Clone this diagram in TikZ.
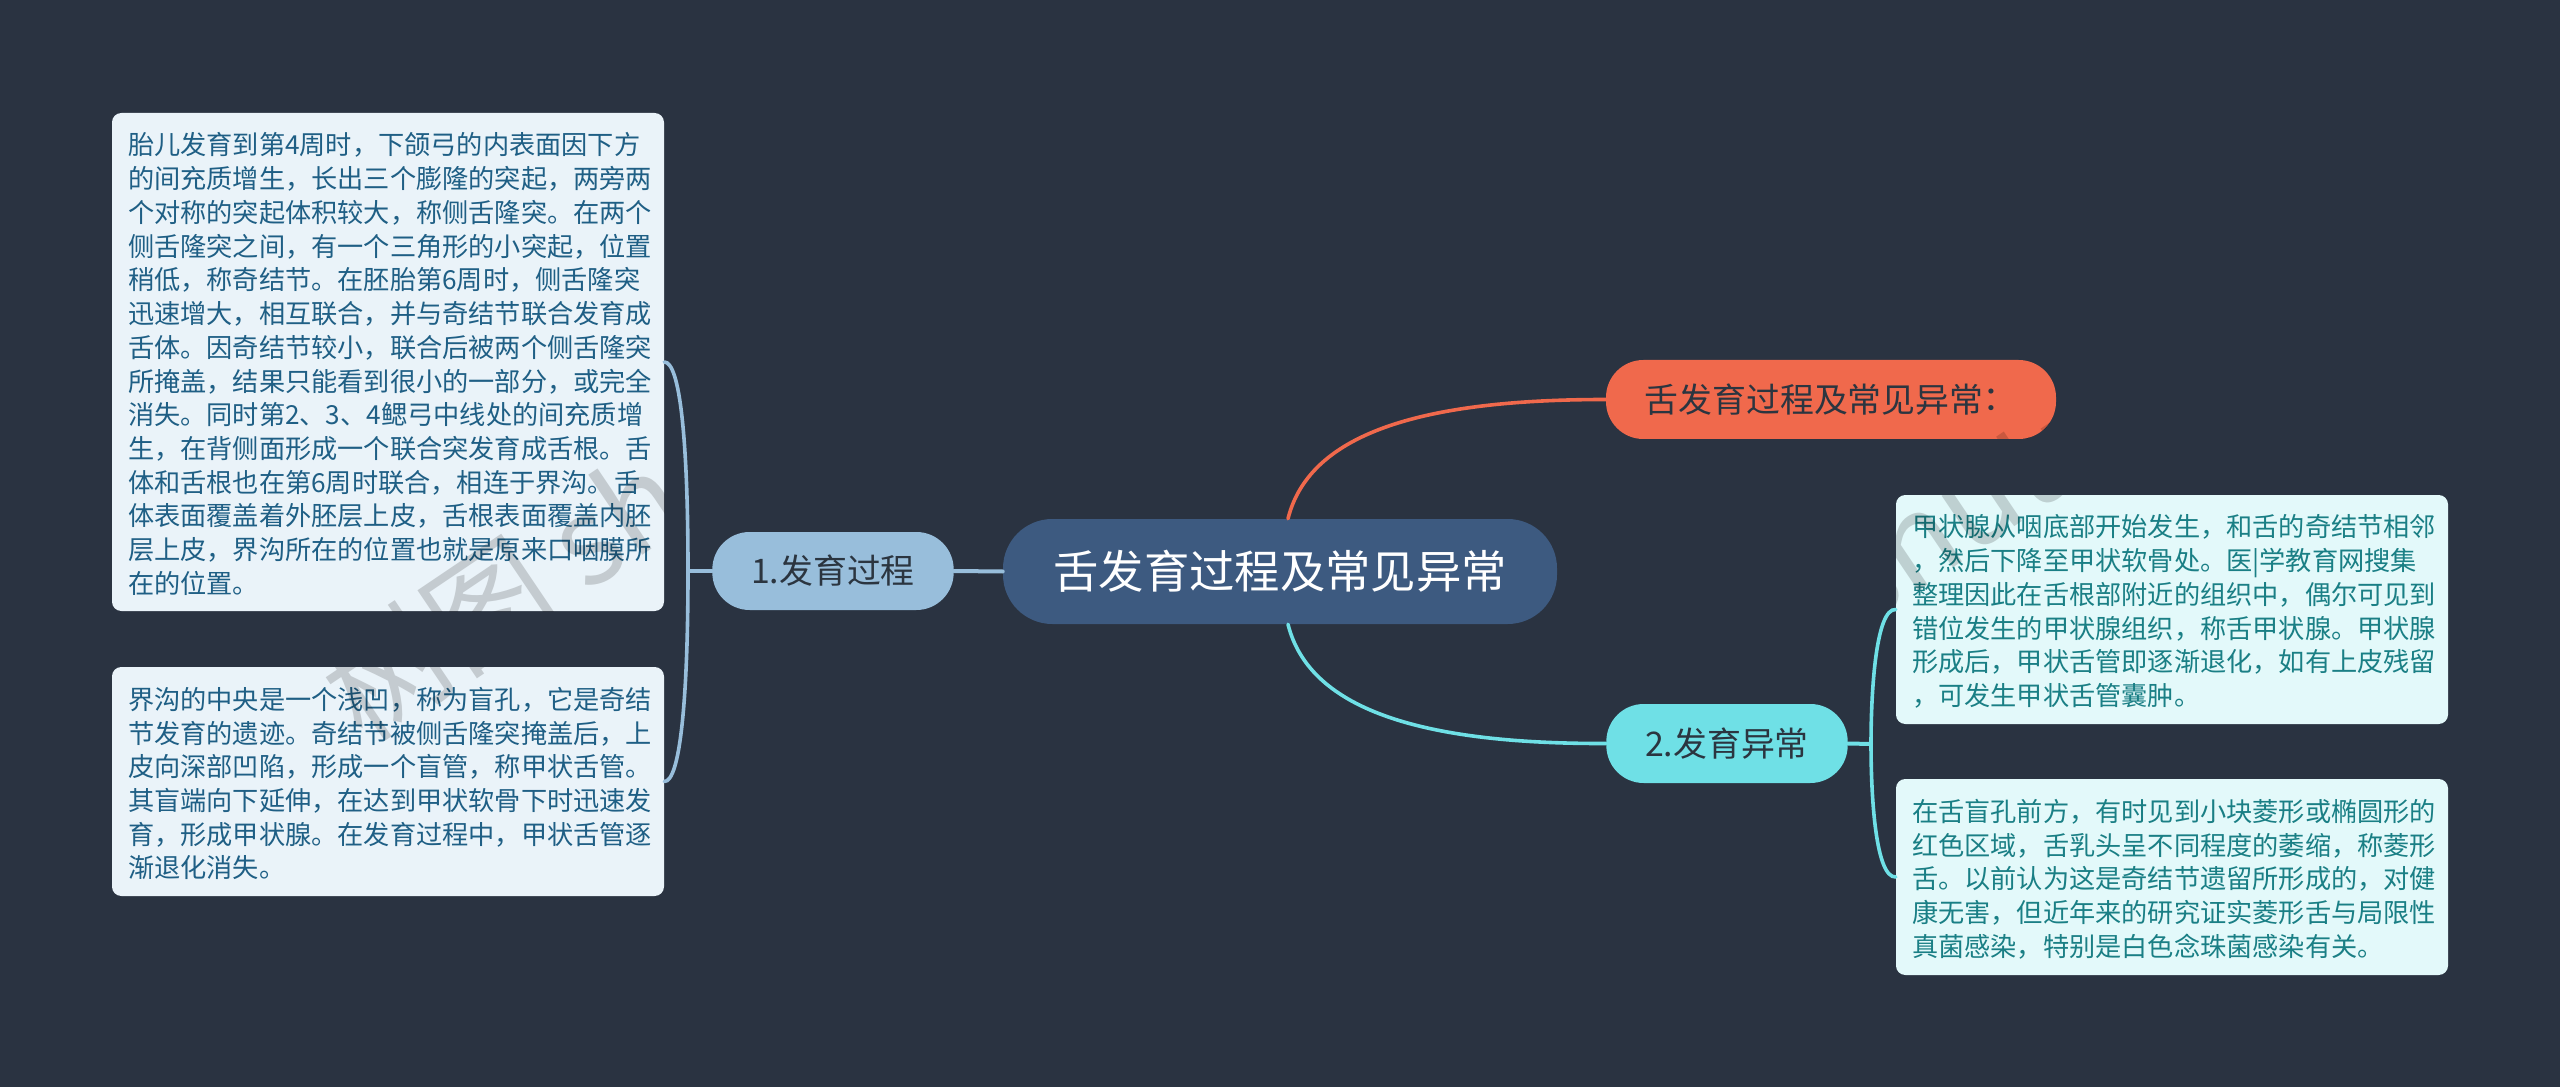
\documentclass[tikz,border=0pt]{standalone}
\usepackage{fontspec}
\setmainfont{Noto Sans CJK SC}
\newfontfamily\tcfont{Noto Sans CJK TC}
\usetikzlibrary{calc}
\definecolor{bgc}{HTML}{2A3341}
\definecolor{rootc}{HTML}{3D5A80}
\definecolor{bluec}{HTML}{98BEDB}
\definecolor{redc}{HTML}{F0694C}
\definecolor{cyanc}{HTML}{6FE0E6}
\definecolor{lboxc}{HTML}{EAF3F9}
\definecolor{rboxc}{HTML}{E3F9FA}
\definecolor{ltext}{HTML}{1F5F85}
\definecolor{rtext}{HTML}{1A7F85}
\definecolor{dtext}{HTML}{2B3540}
\definecolor{wmark}{HTML}{D6D6D6}
\tikzset{
  pill/.style={rectangle,inner sep=0pt,align=center},
  noteboxl/.style={rectangle,rounded corners=7pt,fill=lboxc,text=ltext,inner sep=0pt,minimum width=414pt,text width=390pt,align=left,font=\fontsize{19.65}{25.3}\selectfont,execute at begin node={\rule{0pt}{19.8pt}}},
  noteboxr/.style={rectangle,rounded corners=7pt,fill=rboxc,text=rtext,inner sep=0pt,minimum width=414pt,text width=390pt,align=left,font=\fontsize{19.65}{25.3}\selectfont,execute at begin node={\rule{0pt}{19.8pt}}},
  branchfont/.style={font=\fontsize{25.4}{30}\selectfont,text=dtext},
  wire/.style={line width=2.7pt,line cap=round},
  wmtext/.style={text=wmark,inner sep=0pt,anchor=west,rotate=34,font=\fontsize{91}{96}\selectfont},
}
\begin{document}
\begin{tikzpicture}[x=0.75pt,y=-0.75pt]
\useasboundingbox (0,0) rectangle (2560,1087);
\fill[bgc] (0,0) rectangle (2560,1087);

\coordinate (lfork) at (688,571);
\coordinate (rfork) at (1871,744);

\node[pill,fill=rootc,text=white,rounded corners=37pt,minimum width=415.5pt,minimum height=78.75pt,font=\fontsize{34}{40}\selectfont] (root) at (1280,571.5) {舌发育过程及常见异常};
\node[pill,fill=redc,rounded corners=28pt,minimum width=337.5pt,minimum height=59.25pt,branchfont] (top) at (1831,399.5) {舌发育过程及常见异常\kern-.25em{\tcfont ：}\kern.25em};
\node[pill,fill=bluec,rounded corners=28pt,minimum width=181pt,minimum height=58.5pt,branchfont] (b1) at (833,571) {1.发育过程};
\node[pill,fill=cyanc,rounded corners=28pt,minimum width=181pt,minimum height=59.25pt,branchfont] (b2) at (1727,743.5) {2.发育异常};

\node[noteboxl,minimum height=373.5pt] (l1) at (388,362) {胎儿发育到第4周时，下颌弓的内表面因下方\\
的间充质增生，长出三个膨隆的突起，两旁两\\
个对称的突起体积较大，称侧舌隆突。在两个\\
侧舌隆突之间，有一个三角形的小突起，位置\\
稍低，称奇结节。在胚胎第6周时，侧舌隆突\\
迅速增大，相互联合，并与奇结节联合发育成\\
舌体。因奇结节较小，联合后被两个侧舌隆突\\
所掩盖，结果只能看到很小的一部分，或完全\\
消失。同时第2、3、4鳃弓中线处的间充质增\\
生，在背侧面形成一个联合突发育成舌根。舌\\
体和舌根也在第6周时联合，相连于界沟。舌\\
体表面覆盖着外胚层上皮，舌根表面覆盖内胚\\
层上皮，界沟所在的位置也就是原来口咽膜所\\
在的位置。};
\node[noteboxl,minimum height=171.75pt] (l2) at (388,781.5) {界沟的中央是一个浅凹，称为盲孔，它是奇结\\
节发育的遗迹。奇结节被侧舌隆突掩盖后，上\\
皮向深部凹陷，形成一个盲管，称甲状舌管。\\
其盲端向下延伸，在达到甲状软骨下时迅速发\\
育，形成甲状腺。在发育过程中，甲状舌管逐\\
渐退化消失。};
\node[noteboxr,minimum height=171.75pt] (r1) at (2172,609.5) {甲状腺从咽底部开始发生，和舌的奇结节相邻\\
，然后下降至甲状软骨处。医|学教育网搜集\\
整理因此在舌根部附近的组织中，偶尔可见到\\
错位发生的甲状腺组织，称舌甲状腺。甲状腺\\
形成后，甲状舌管即逐渐退化，如有上皮残留\\
，可发生甲状舌管囊肿。};
\node[noteboxr,minimum height=147pt] (r2) at (2172,877) {在舌盲孔前方，有时见到小块菱形或椭圆形的\\
红色区域，舌乳头呈不同程度的萎缩，称菱形\\
舌。以前认为这是奇结节遗留所形成的，对健\\
康无害，但近年来的研究证实菱形舌与局限性\\
真菌感染，特别是白色念珠菌感染有关。};

% connectors
\draw[wire,draw=bluec,line width=3pt] (b1.east) -- (root.west);
\draw[wire,draw=bluec,line width=3pt] (b1.west) -- (lfork);
\draw[wire,draw=bluec] (lfork) .. controls (688,440) and (680,362) .. (l1.east);
\draw[wire,draw=bluec] (lfork) .. controls (688,700) and (680,782) .. (l2.east);
\draw[wire,draw=redc] ([xshift=6pt]root.north) .. controls (1310,430) and (1430,399.5) .. (top.west);
\draw[wire,draw=cyanc] ([xshift=6pt]root.south) .. controls (1310,713) and (1430,744) .. (b2.west);
\draw[wire,draw=cyanc,line width=3pt] (b2.east) -- (rfork);
\draw[wire,draw=cyanc] (rfork) .. controls (1871,690) and (1876,608) .. (r1.west);
\draw[wire,draw=cyanc] (rfork) .. controls (1871,800) and (1876,878) .. (r2.west);

% faint watermark, visible on the light boxes and the orange pill
\begin{scope}[blend mode=multiply]
\clip[rounded corners=7pt] (112,113) rectangle (664,611)
  (112,667) rectangle (664,896)
  (1896,495) rectangle (2448,724)
  [rounded corners=28pt] (1606,360) rectangle (2056,439);
\node[wmtext] (wm1) at (337,706) {树图 shutu.cn};
\node[wmtext] (wm2) at (1613,742) {树图 shutu.cn};
\end{scope}
\end{tikzpicture}
\end{document}
